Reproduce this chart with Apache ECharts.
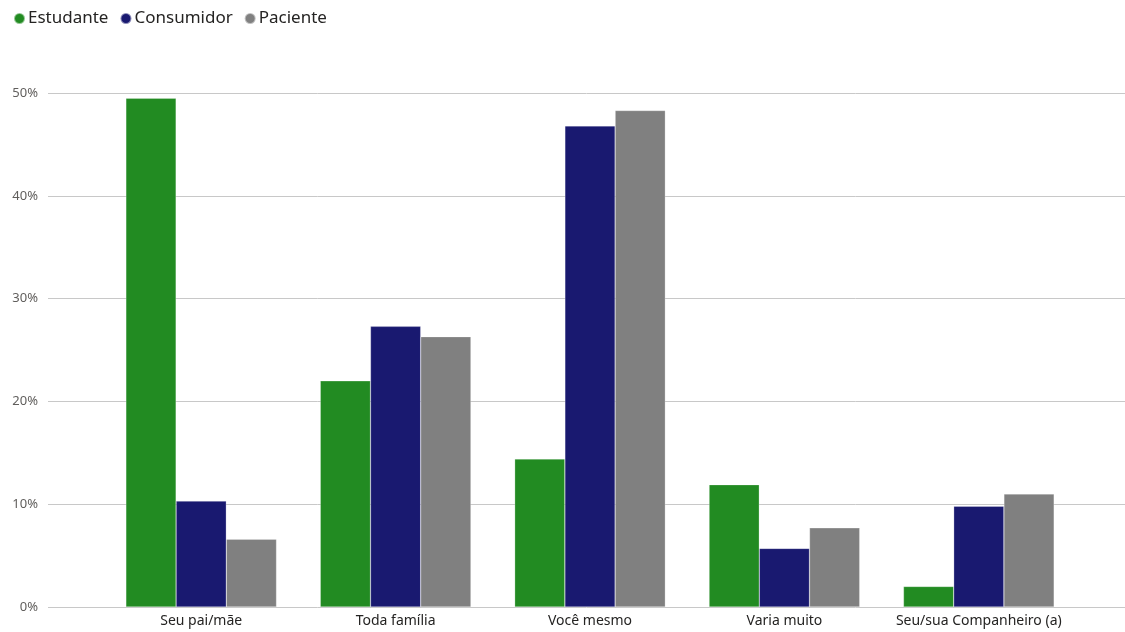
<!DOCTYPE html>
<html>
<head>
<meta charset="utf-8">
<script src="https://cdn.jsdelivr.net/npm/echarts@6/dist/echarts.min.js"></script>
<style>
html,body{margin:0;padding:0;background:#fff;}
#c{width:1125px;height:632px;}
</style>
</head>
<body>
<div id="c"></div>
<script>
const categories = ['Seu pai/mãe', 'Toda família', 'Você mesmo', 'Varia muito', 'Seu/sua Companheiro (a)'];
const estudante = [49.5, 22.0, 14.4, 11.9, 2.0];
const consumidor = [10.3, 27.3, 46.8, 5.7, 9.8];
const paciente = [6.6, 26.3, 48.3, 7.7, 11.0];
const yTicks = [0, 10, 20, 30, 40, 50];

const FONT = '"Noto Sans", "Open Sans", sans-serif';
const chart = echarts.init(document.getElementById('c'), null, {renderer: 'canvas'});

function bar(name, data, color) {
  return {
    name: name, type: 'bar', data: data, xAxisIndex: 1, yAxisIndex: 1,
    barGap: '0%', barCategoryGap: '22.5%',
    itemStyle: {color: color, borderColor: 'rgba(255,255,255,0.5)', borderWidth: 0.5},
    emphasis: {disabled: true}
  };
}

chart.setOption({
  animation: false,
  textStyle: {fontFamily: FONT},
  legend: {
    left: 13, top: 10, padding: 0, itemGap: 11,
    icon: 'circle', itemWidth: 11, itemHeight: 11,
    textStyle: {fontSize: 17, color: '#252423', fontFamily: FONT, padding: [0, 0, 0, -2]},
    data: ['Estudante', 'Consumidor', 'Paciente']
  },
  grid: [
    {left: 48, right: 0, top: 93, bottom: 25, containLabel: false},
    {left: 104, right: 49, top: 93, bottom: 25, containLabel: false}
  ],
  xAxis: [
    {type: 'value', gridIndex: 0, show: false, min: 0, max: 1},
    {type: 'category', gridIndex: 1, data: categories,
     axisLine: {show: false}, axisTick: {show: false},
     axisLabel: {interval: 0, fontSize: 14, color: '#252423', margin: 7, fontFamily: FONT}}
  ],
  yAxis: [
    {type: 'value', gridIndex: 0, min: yTicks[0], max: yTicks[yTicks.length - 1], interval: 10,
     axisLine: {show: false}, axisTick: {show: false},
     axisLabel: {formatter: '{value}%', fontSize: 13, color: '#605E5C', margin: 10, fontFamily: FONT},
     splitLine: {lineStyle: {color: '#c8c8c8', width: 1}}},
    {type: 'value', gridIndex: 1, min: 0, max: 50, interval: 10, show: false,
     splitLine: {show: false}}
  ],
  series: [
    bar('Estudante', estudante, '#228B22'),
    bar('Consumidor', consumidor, '#191970'),
    bar('Paciente', paciente, '#808080')
  ]
});
</script>
</body>
</html>
